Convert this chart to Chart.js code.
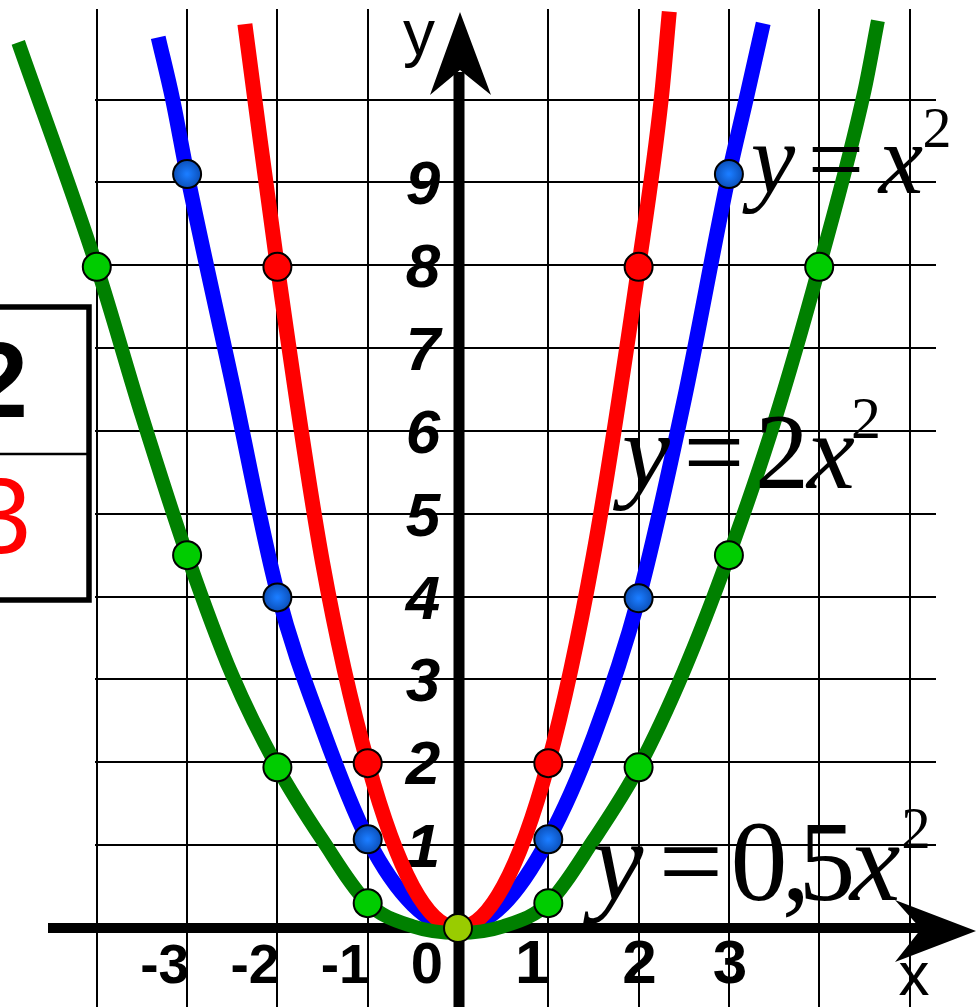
<!DOCTYPE html>
<html>
<head>
<meta charset="utf-8">
<title>y = x², y = 2x², y = 0,5x²</title>
<script src="https://cdn.jsdelivr.net/npm/chart.js@4.4.1/dist/chart.umd.min.js"></script>
<style>
html,body{margin:0;padding:0;background:#fff;overflow:hidden;}
#wrap{position:relative;width:976px;height:1007px;}
</style>
</head>
<body>
<div id="wrap"><canvas id="chart"></canvas></div>
<script>
// ---- tick labels / grid values ----
const xTickValues = [-3, -2, -1, 0, 1, 2, 3];
const xTickLabels = ['-3', '-2', '-1', '0', '1', '2', '3'];
const yTickValues = [1, 2, 3, 4, 5, 6, 7, 8, 9];
const yTickLabels = ['1', '2', '3', '4', '5', '6', '7', '8', '9'];
const gridXValues = [-4, -3, -2, -1, 1, 2, 3, 4, 5];
const gridYValues = [1, 2, 3, 4, 5, 6, 7, 8, 9, 10];

// ---- curve y = 0,5x² (green) ----
const halfX = [-4.87, -4.0, -3.5, -3.0, -2.5, -2.0, -1.5, -1.0, -0.5, 0, 0.5, 1.0, 1.5, 2.0, 2.5, 3.0, 3.5, 4.0, 4.5, 4.65];
const halfY = [10.69, 7.98, 6.18, 4.50, 3.05, 1.94, 1.06, 0.30, 0.02, -0.06, 0.02, 0.30, 1.06, 1.94, 3.10, 4.50, 6.10, 7.98, 10.10, 10.95];

// ---- curve y = x² (blue) ----
const oneX = [-3.32, -3.16, -3.0, -2.5, -2.0, -1.5, -1.0, -0.5, 0, 0.5, 1.0, 1.5, 2.0, 2.5, 3.0, 3.19, 3.38];
const oneY = [10.75, 10.0, 9.10, 6.58, 4.05, 2.40, 1.07, 0.28, 0, 0.28, 1.07, 2.30, 3.98, 6.35, 9.10, 10.0, 10.92];

// ---- curve y = 2x² (red) ----
const twoX = [-2.36, -2.25, -2.0, -1.5, -1.0, -0.5, 0, 0.5, 1.0, 1.5, 2.0, 2.25, 2.34];
const twoY = [10.91, 10.0, 7.98, 4.41, 1.99, 0.50, 0, 0.50, 1.99, 4.50, 7.98, 10.0, 11.06];

// ---- marked points ----
const halfPtsX = [-4, -3, -2, -1, 1, 2, 3, 4];
const halfPtsY = [7.98, 4.50, 1.94, 0.30, 0.30, 1.94, 4.50, 7.98];
const onePtsX = [-3, -2, -1, 1, 2, 3];
const onePtsY = [9.10, 3.99, 1.07, 1.07, 3.98, 9.10];
const twoPtsX = [-2, -1, 1, 2];
const twoPtsY = [7.98, 1.99, 1.99, 7.98];
const originX = [0];
const originY = [0];

// ---- text ----
const boxTopText = '2';
const boxBottomText = '3';
const axisNameY = 'y';
const axisNameX = 'x';

const zip = (xs, ys) => xs.map((x, i) => ({ x: x, y: ys[i] }));

const SANS = '"Liberation Sans", Arial, sans-serif';
const SERIF = '"Liberation Serif", "Times New Roman", serif';

function txt(ctx, s, font, x, y, align, color) {
  ctx.font = font;
  ctx.textAlign = align || 'center';
  ctx.textBaseline = 'alphabetic';
  ctx.fillStyle = color || '#000';
  ctx.fillText(s, x, y);
}

const gridAxesPlugin = {
  id: 'gridAxes',
  beforeDatasetsDraw(chart) {
    const ctx = chart.ctx;
    const sx = chart.scales.x, sy = chart.scales.y;
    const x0 = sx.getPixelForValue(0), y0 = sy.getPixelForValue(0);
    ctx.save();
    // grid
    ctx.strokeStyle = '#000';
    ctx.lineWidth = 2;
    gridXValues.forEach(v => {
      const px = Math.round(sx.getPixelForValue(v));
      ctx.beginPath(); ctx.moveTo(px, 9); ctx.lineTo(px, chart.height); ctx.stroke();
    });
    gridYValues.forEach(v => {
      const py = Math.round(sy.getPixelForValue(v));
      ctx.beginPath(); ctx.moveTo(95, py); ctx.lineTo(936, py); ctx.stroke();
    });
    // y tick labels
    yTickValues.forEach((v, i) => {
      txt(ctx, yTickLabels[i], 'italic bold 62px ' + SANS, x0 - 35, sy.getPixelForValue(v) + 22, 'center');
    });
    // x tick labels
    xTickValues.forEach((v, i) => {
      const px = sx.getPixelForValue(v);
      const base = y0 + 55;
      if (v < 0) txt(ctx, xTickLabels[i], 'bold 55px ' + SANS, px + 2, base, 'right');
      else if (v === 0) txt(ctx, xTickLabels[i], 'bold 58px ' + SANS, px - 31, base, 'center');
      else if (v === 1) txt(ctx, xTickLabels[i], 'bold 62px ' + SANS, px - 16, base, 'center');
      else txt(ctx, xTickLabels[i], 'bold 62px ' + SANS, px + 1, base, 'center');
    });
    // axes
    ctx.fillStyle = '#000';
    ctx.lineCap = 'butt';
    ctx.lineWidth = 10;
    ctx.beginPath(); ctx.moveTo(48, y0); ctx.lineTo(922, y0); ctx.stroke();
    ctx.beginPath();
    ctx.moveTo(976, y0 + 3); ctx.lineTo(895, y0 - 28); ctx.lineTo(921, y0 + 1); ctx.lineTo(895, y0 + 34);
    ctx.closePath(); ctx.fill();
    ctx.lineWidth = 11;
    ctx.beginPath(); ctx.moveTo(x0 + 1, chart.height); ctx.lineTo(x0 + 1, 72); ctx.stroke();
    ctx.beginPath();
    ctx.moveTo(x0 + 2, 12); ctx.lineTo(x0 + 33, 95); ctx.lineTo(x0 + 2, 70); ctx.lineTo(x0 - 28, 95);
    ctx.closePath(); ctx.fill();
    ctx.restore();
  },
  afterDatasetsDraw(chart) {
    const ctx = chart.ctx;
    ctx.save();
    // axis names
    txt(ctx, axisNameY, '64px ' + SANS, 419, 55, 'center');
    txt(ctx, axisNameX, '62px ' + SANS, 914, 995, 'center');
    // formula y = x²
    txt(ctx, 'y', 'italic 100px ' + SERIF, 773, 193, 'center');
    txt(ctx, '=', '100px ' + SERIF, 836, 193, 'center');
    txt(ctx, 'x', 'italic 100px ' + SERIF, 901, 193, 'center');
    txt(ctx, '2', '58px ' + SERIF, 937, 147, 'center');
    // formula y = 2x²
    txt(ctx, 'y', 'italic 108px ' + SERIF, 646, 488, 'center');
    txt(ctx, '=', '108px ' + SERIF, 714, 488, 'center');
    txt(ctx, '2', '108px ' + SERIF, 782, 488, 'center');
    txt(ctx, 'x', 'italic 108px ' + SERIF, 831, 488, 'center');
    txt(ctx, '2', '60px ' + SERIF, 866, 438, 'center');
    // formula y = 0,5x²
    txt(ctx, 'y', 'italic 114px ' + SERIF, 618, 900, 'center');
    txt(ctx, '=', '114px ' + SERIF, 691, 900, 'center');
    txt(ctx, '0', '114px ' + SERIF, 759, 900, 'center');
    txt(ctx, ',', '114px ' + SERIF, 796, 900, 'center');
    txt(ctx, '5', '114px ' + SERIF, 827, 900, 'center');
    txt(ctx, 'x', 'italic 114px ' + SERIF, 875, 900, 'center');
    txt(ctx, '2', '59px ' + SERIF, 916, 848, 'center');
    // left box
    ctx.strokeStyle = '#000';
    ctx.lineWidth = 5.5;
    ctx.strokeRect(-10, 307, 99, 293);
    ctx.lineWidth = 2.5;
    ctx.beginPath(); ctx.moveTo(0, 454); ctx.lineTo(89, 454); ctx.stroke();
    txt(ctx, boxTopText, 'bold 107px ' + SANS, 28, 417, 'right', '#000');
    txt(ctx, boxBottomText, '107px ' + SANS, 31, 553, 'right', '#ff0000');
    ctx.restore();
  }
};

function blueGradient(c) {
  if (!c.parsed || !c.chart.scales.x) return '#0a5ed6';
  const px = c.chart.scales.x.getPixelForValue(c.parsed.x);
  const py = c.chart.scales.y.getPixelForValue(c.parsed.y);
  if (!isFinite(px) || !isFinite(py)) return '#0a5ed6';
  const g = c.chart.ctx.createRadialGradient(px, py, 1, px, py, 15);
  g.addColorStop(0, '#1a7cff');
  g.addColorStop(1, '#0a4cb4');
  return g;
}

const markerBase = { showLine: false, pointRadius: 14, pointBorderWidth: 2, pointBorderColor: '#000', pointStyle: 'circle', order: 0 };

new Chart(document.getElementById('chart'), {
  type: 'scatter',
  data: {
    datasets: [
      Object.assign({ label: 'origin', data: zip(originX, originY), pointBackgroundColor: '#99cc00' }, markerBase),
      Object.assign({ label: 'y = 0,5x² points', data: zip(halfPtsX, halfPtsY), pointBackgroundColor: '#00cc00' }, markerBase),
      Object.assign({ label: 'y = 2x² points', data: zip(twoPtsX, twoPtsY), pointBackgroundColor: '#ff0000' }, markerBase),
      Object.assign({ label: 'y = x² points', data: zip(onePtsX, onePtsY), pointBackgroundColor: blueGradient }, markerBase),
      { label: 'y = 0,5x²', data: zip(halfX, halfY), showLine: true, borderColor: '#008000', borderWidth: 14, pointRadius: 0, cubicInterpolationMode: 'monotone', fill: false, order: 1 },
      { label: 'y = 2x²', data: zip(twoX, twoY), showLine: true, borderColor: '#ff0000', borderWidth: 15, pointRadius: 0, cubicInterpolationMode: 'monotone', fill: false, order: 2 },
      { label: 'y = x²', data: zip(oneX, oneY), showLine: true, borderColor: '#0000ff', borderWidth: 15, pointRadius: 0, cubicInterpolationMode: 'monotone', fill: false, order: 3 }
    ]
  },
  options: {
    responsive: true,
    maintainAspectRatio: false,
    animation: false,
    events: [],
    layout: { padding: 0, autoPadding: false },
    plugins: { legend: { display: false }, tooltip: { enabled: false } },
    scales: {
      x: { type: 'linear', min: -5.072, max: 5.7364, display: false },
      y: { type: 'linear', min: -0.9535, max: 11.201, display: false }
    }
  },
  plugins: [gridAxesPlugin]
});
</script>
</body>
</html>
